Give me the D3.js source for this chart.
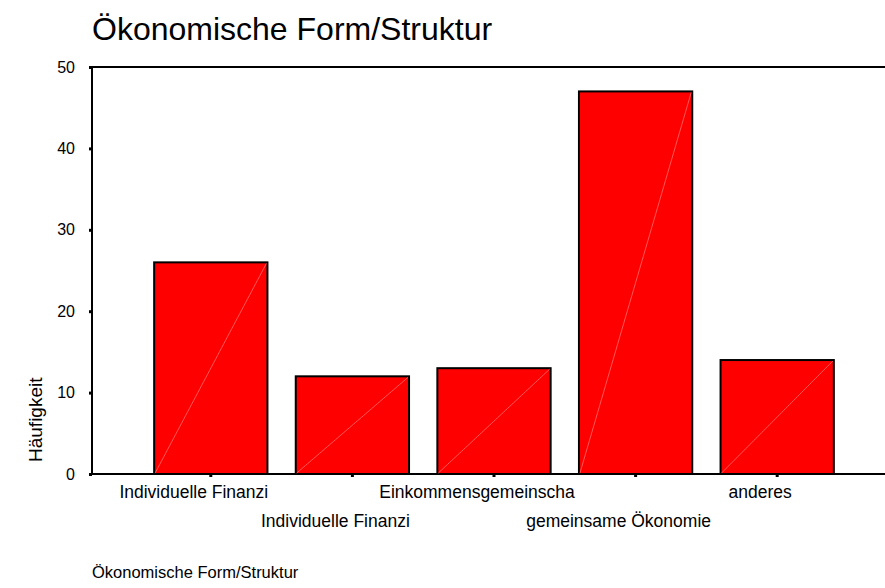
<!DOCTYPE html>
<html>
<head>
<meta charset="utf-8">
<script src="https://cdn.jsdelivr.net/npm/d3@7"></script>
<style>
	body { margin: 0; background: #fff; }
	text { font-family: "Liberation Sans", Arial, sans-serif; fill: #000; }
</style>
</head>
<body>
<svg id="chart" width="885" height="588"></svg>
<script>
// data
const categories = [
	"Individuelle Finanzi",
	"Individuelle Finanzi ",
	"Einkommensgemeinscha",
	"gemeinsame Ökonomie",
	"anderes"
];
const counts = [26, 12, 13, 47, 14];
const yTicks = [0, 10, 20, 30, 40, 50];

const svg = d3.select('#chart');
const plotLeft = 92, plotRight = 885, plotTop = 67, plotBottom = 474;

const xScale = d3.scaleBand()
	.domain(categories)
	.range([140, 848])
	.paddingInner(0.2)
	.paddingOuter(0.1);
const yScale = d3.scaleLinear()
	.domain([0, 50])
	.range([plotBottom, plotTop]);

// title
svg.append('text')
	.attr('x', 92)
	.attr('y', 40)
	.style('font-size', '32px')
	.text('Ökonomische Form/Struktur');

// frame lines (top + bottom)
svg.append('line')
	.attr('x1', plotLeft).attr('x2', plotRight)
	.attr('y1', plotTop).attr('y2', plotTop)
	.attr('stroke', '#000').attr('stroke-width', 2);
svg.append('line')
	.attr('x1', plotLeft).attr('x2', plotRight)
	.attr('y1', plotBottom).attr('y2', plotBottom)
	.attr('stroke', '#000').attr('stroke-width', 2);

// bars
const bars = svg.append('g');
bars.selectAll('rect')
	.data(counts)
	.join('rect')
		.attr('x', (d, i) => xScale(categories[i]))
		.attr('y', d => yScale(d))
		.attr('width', xScale.bandwidth())
		.attr('height', d => plotBottom - yScale(d))
		.attr('fill', '#ff0000')
		.attr('stroke', '#000')
		.attr('stroke-width', 2);

// faint diagonal inside each bar
bars.selectAll('line')
	.data(counts)
	.join('line')
		.attr('x1', (d, i) => xScale(categories[i]) + 1)
		.attr('y1', plotBottom - 1)
		.attr('x2', (d, i) => xScale(categories[i]) + xScale.bandwidth() - 1)
		.attr('y2', d => yScale(d) + 1)
		.attr('stroke', '#ff9090')
		.attr('stroke-width', 0.6);

// y axis
const yAxis = svg.append('g')
	.attr('transform', `translate(${plotLeft},0)`)
	.call(d3.axisLeft(yScale).tickValues(yTicks).tickSize(3).tickPadding(14));
yAxis.select('.domain').attr('stroke-width', 2).attr('d', `M0,${plotTop}V${plotBottom}`);
yAxis.selectAll('.tick line').attr('stroke-width', 3);
yAxis.selectAll('.tick text')
	.style('font-family', '"Liberation Sans", Arial, sans-serif')
	.style('font-size', '16px');

// x axis ticks
const xAxis = svg.append('g')
	.attr('transform', `translate(0,${plotBottom})`)
	.call(d3.axisBottom(xScale).tickSize(3).tickFormat(''));
xAxis.select('.domain').remove();
xAxis.selectAll('.tick line').attr('stroke-width', 3);

// staggered category labels
svg.append('g').selectAll('text')
	.data(categories)
	.join('text')
		.attr('x', d => xScale(d) + xScale.bandwidth() / 2 - 17)
		.attr('y', (d, i) => i % 2 === 0 ? 498 : 527)
		.attr('text-anchor', 'middle')
		.style('font-size', '17.5px')
		.text(d => d.trim());

// axis titles
svg.append('text')
	.attr('transform', 'translate(42,462) rotate(-90)')
	.attr('text-anchor', 'start')
	.style('font-size', '19px')
	.text('Häufigkeit');

svg.append('text')
	.attr('x', 92)
	.attr('y', 578)
	.style('font-size', '16.5px')
	.text('Ökonomische Form/Struktur');
</script>
</body>
</html>
